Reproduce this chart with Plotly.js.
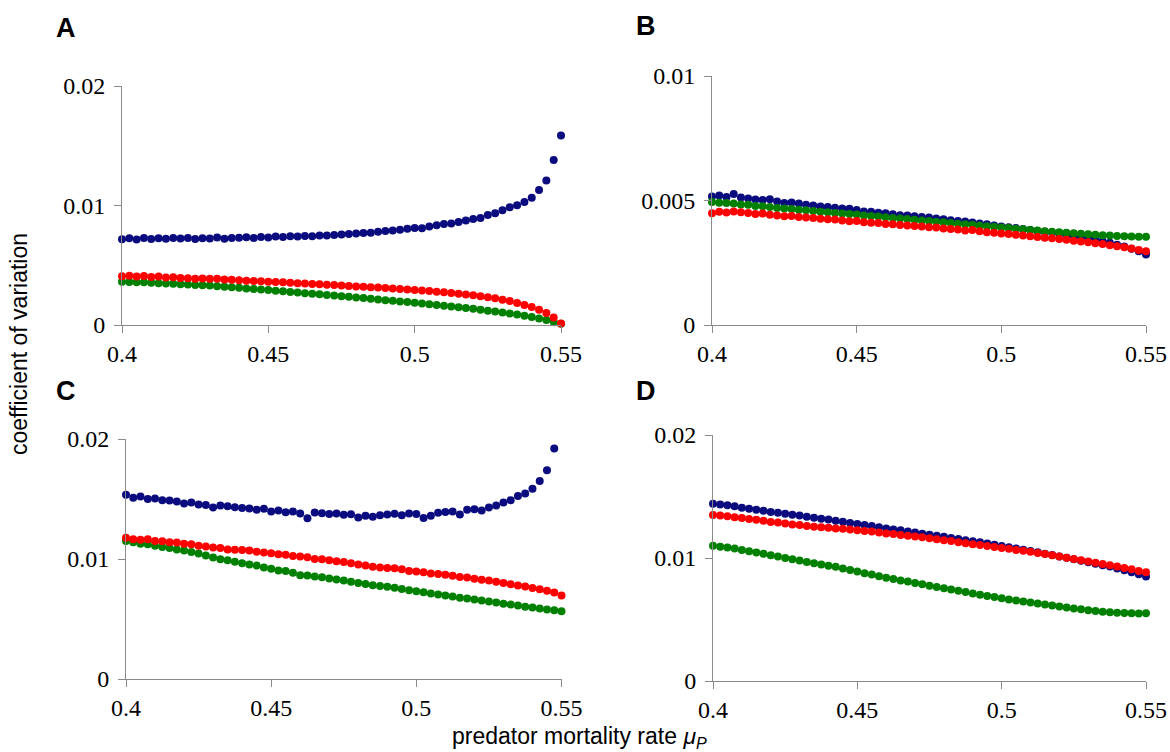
<!DOCTYPE html>
<html>
<head>
<meta charset="utf-8">
<script src="https://cdn.plot.ly/plotly-3.0.1.min.js"></script>
<style>html,body{margin:0;padding:0;background:#fff}#chart{width:1170px;height:752px}</style>
</head>
<body>
<div id="chart"></div>
<script>
// predator mortality rate values (x)
const mu = [0.4,0.4025,0.405,0.4075,0.41,0.4125,0.415,0.4175,0.42,0.4225,0.425,0.4275,0.43,0.4325,0.435,0.4375,0.44,0.4425,0.445,0.4475,0.45,0.4525,0.455,0.4575,0.46,0.4625,0.465,0.4675,0.47,0.4725,0.475,0.4775,0.48,0.4825,0.485,0.4875,0.49,0.4925,0.495,0.4975,0.5,0.5025,0.505,0.5075,0.51,0.5125,0.515,0.5175,0.52,0.5225,0.525,0.5275,0.53,0.5325,0.535,0.5375,0.54,0.5425,0.545,0.5475,0.55];

// Panel A
const blueA = [0.00718,0.00725,0.00715,0.00728,0.00720,0.00726,0.00722,0.00727,0.00724,0.00728,0.00720,0.00725,0.00723,0.00732,0.00722,0.00728,0.00730,0.00734,0.00729,0.00736,0.00733,0.00740,0.00737,0.00742,0.00740,0.00745,0.00743,0.00748,0.00750,0.00753,0.00757,0.00762,0.00765,0.00770,0.00772,0.00780,0.00786,0.00790,0.00798,0.00805,0.00812,0.00810,0.00825,0.00834,0.00845,0.00850,0.00862,0.00875,0.00888,0.00895,0.00920,0.00935,0.00960,0.00985,0.01002,0.01030,0.01065,0.01130,0.01210,0.01380,0.01585];
const redA = [0.00408,0.00412,0.00405,0.00410,0.00402,0.00405,0.00398,0.00400,0.00394,0.00392,0.00388,0.00390,0.00386,0.00388,0.00380,0.00378,0.00374,0.00371,0.00368,0.00366,0.00362,0.00360,0.00357,0.00353,0.00350,0.00348,0.00343,0.00341,0.00337,0.00334,0.00330,0.00327,0.00323,0.00320,0.00316,0.00313,0.00309,0.00305,0.00301,0.00298,0.00293,0.00289,0.00284,0.00279,0.00274,0.00268,0.00262,0.00256,0.00249,0.00241,0.00233,0.00223,0.00212,0.00200,0.00185,0.00168,0.00150,0.00128,0.00100,0.00062,0.00012];
const greenA = [0.00362,0.00360,0.00357,0.00358,0.00354,0.00350,0.00348,0.00345,0.00341,0.00338,0.00335,0.00333,0.00330,0.00324,0.00320,0.00316,0.00311,0.00306,0.00302,0.00297,0.00292,0.00287,0.00282,0.00277,0.00272,0.00266,0.00262,0.00257,0.00252,0.00246,0.00241,0.00236,0.00230,0.00225,0.00219,0.00214,0.00208,0.00203,0.00197,0.00192,0.00186,0.00180,0.00174,0.00168,0.00162,0.00155,0.00149,0.00142,0.00135,0.00128,0.00120,0.00112,0.00104,0.00096,0.00087,0.00077,0.00066,0.00055,0.00042,0.00028,0.00010];

// Panel B
const blueB = [0.00516,0.00520,0.00514,0.00526,0.00512,0.00508,0.00504,0.00502,0.00505,0.00496,0.00490,0.00492,0.00488,0.00483,0.00480,0.00476,0.00474,0.00471,0.00468,0.00467,0.00462,0.00456,0.00455,0.00451,0.00449,0.00445,0.00441,0.00440,0.00437,0.00434,0.00432,0.00428,0.00425,0.00421,0.00418,0.00416,0.00412,0.00408,0.00405,0.00400,0.00396,0.00393,0.00390,0.00386,0.00382,0.00378,0.00375,0.00371,0.00367,0.00363,0.00359,0.00353,0.00348,0.00342,0.00336,0.00330,0.00322,0.00315,0.00306,0.00296,0.00283];
const greenB = [0.00494,0.00491,0.00490,0.00488,0.00484,0.00483,0.00478,0.00477,0.00474,0.00470,0.00468,0.00466,0.00463,0.00461,0.00458,0.00455,0.00453,0.00450,0.00448,0.00446,0.00444,0.00440,0.00438,0.00436,0.00433,0.00430,0.00428,0.00426,0.00423,0.00420,0.00418,0.00415,0.00413,0.00410,0.00407,0.00405,0.00403,0.00400,0.00397,0.00395,0.00392,0.00390,0.00387,0.00385,0.00382,0.00380,0.00377,0.00375,0.00372,0.00370,0.00368,0.00366,0.00364,0.00362,0.00360,0.00359,0.00357,0.00356,0.00355,0.00354,0.00354];
const redB = [0.00449,0.00455,0.00452,0.00456,0.00453,0.00450,0.00446,0.00448,0.00443,0.00440,0.00437,0.00438,0.00434,0.00432,0.00430,0.00427,0.00425,0.00424,0.00420,0.00417,0.00418,0.00413,0.00411,0.00410,0.00406,0.00405,0.00402,0.00400,0.00398,0.00396,0.00393,0.00392,0.00388,0.00386,0.00384,0.00380,0.00382,0.00377,0.00372,0.00370,0.00367,0.00365,0.00362,0.00359,0.00356,0.00353,0.00350,0.00348,0.00345,0.00342,0.00338,0.00335,0.00332,0.00328,0.00325,0.00320,0.00316,0.00312,0.00307,0.00301,0.00296];

// Panel C
const blueC = [0.01536,0.01510,0.01520,0.01500,0.01505,0.01490,0.01488,0.01480,0.01462,0.01470,0.01455,0.01450,0.01430,0.01445,0.01440,0.01432,0.01425,0.01420,0.01410,0.01418,0.01395,0.01405,0.01390,0.01395,0.01380,0.01340,0.01388,0.01382,0.01375,0.01380,0.01368,0.01372,0.01345,0.01360,0.01352,0.01365,0.01370,0.01378,0.01365,0.01380,0.01375,0.01342,0.01360,0.01385,0.01392,0.01395,0.01370,0.01410,0.01415,0.01405,0.01430,0.01445,0.01470,0.01490,0.01525,0.01545,0.01585,0.01650,0.01740,0.01920,null];
const redC = [0.01178,0.01165,0.01160,0.01165,0.01150,0.01148,0.01140,0.01138,0.01128,0.01122,0.01110,0.01105,0.01095,0.01092,0.01080,0.01078,0.01075,0.01070,0.01060,0.01055,0.01048,0.01040,0.01035,0.01025,0.01020,0.01015,0.01000,0.00998,0.00990,0.00982,0.00975,0.00965,0.00955,0.00945,0.00935,0.00930,0.00925,0.00922,0.00915,0.00900,0.00895,0.00890,0.00880,0.00875,0.00868,0.00860,0.00850,0.00845,0.00835,0.00828,0.00820,0.00810,0.00800,0.00790,0.00780,0.00770,0.00758,0.00748,0.00735,0.00720,0.00695];
const greenC = [0.01150,0.01140,0.01128,0.01122,0.01110,0.01100,0.01092,0.01080,0.01070,0.01058,0.01045,0.01030,0.01012,0.00998,0.00990,0.00978,0.00965,0.00955,0.00945,0.00930,0.00918,0.00905,0.00900,0.00885,0.00865,0.00862,0.00855,0.00848,0.00838,0.00830,0.00820,0.00810,0.00800,0.00792,0.00782,0.00775,0.00768,0.00760,0.00750,0.00740,0.00732,0.00722,0.00712,0.00705,0.00696,0.00688,0.00678,0.00670,0.00662,0.00655,0.00645,0.00638,0.00628,0.00620,0.00612,0.00602,0.00595,0.00588,0.00580,0.00572,0.00565];

// Panel D
const blueD = [0.01442,0.01435,0.01428,0.01420,0.01408,0.01400,0.01392,0.01385,0.01375,0.01368,0.01360,0.01352,0.01345,0.01335,0.01328,0.01320,0.01312,0.01302,0.01295,0.01285,0.01277,0.01268,0.01260,0.01250,0.01240,0.01232,0.01225,0.01215,0.01208,0.01198,0.01190,0.01180,0.01172,0.01163,0.01155,0.01145,0.01137,0.01128,0.01118,0.01108,0.01098,0.01088,0.01078,0.01068,0.01056,0.01046,0.01035,0.01024,0.01013,0.01002,0.00990,0.00978,0.00966,0.00953,0.00942,0.00930,0.00915,0.00900,0.00885,0.00868,0.00850];
const redD = [0.01350,0.01345,0.01340,0.01332,0.01325,0.01318,0.01310,0.01302,0.01292,0.01288,0.01280,0.01272,0.01268,0.01260,0.01255,0.01250,0.01245,0.01240,0.01238,0.01232,0.01225,0.01220,0.01215,0.01208,0.01200,0.01195,0.01188,0.01180,0.01175,0.01168,0.01160,0.01152,0.01145,0.01138,0.01128,0.01120,0.01112,0.01105,0.01098,0.01090,0.01082,0.01075,0.01066,0.01058,0.01050,0.01040,0.01032,0.01022,0.01012,0.01002,0.00992,0.00982,0.00972,0.00962,0.00952,0.00942,0.00930,0.00918,0.00908,0.00895,0.00885];
const greenD = [0.01100,0.01092,0.01085,0.01078,0.01065,0.01055,0.01045,0.01035,0.01022,0.01012,0.01000,0.00990,0.00980,0.00968,0.00958,0.00948,0.00938,0.00928,0.00915,0.00903,0.00890,0.00877,0.00865,0.00852,0.00840,0.00830,0.00818,0.00808,0.00796,0.00786,0.00775,0.00765,0.00754,0.00744,0.00733,0.00723,0.00712,0.00702,0.00692,0.00682,0.00672,0.00663,0.00655,0.00646,0.00638,0.00630,0.00621,0.00613,0.00605,0.00597,0.00590,0.00583,0.00576,0.00570,0.00563,0.00558,0.00555,0.00552,0.00550,0.00548,0.00550];

const xTickVals = [0.4, 0.45, 0.5, 0.55];
const xTickText = ["0.4", "0.45", "0.5", "0.55"];
const yTickValsACD = [0, 0.01, 0.02];
const yTickTextACD = ["0", "0.01", "0.02"];
const yTickValsB = [0, 0.005, 0.01];
const yTickTextB = ["0", "0.005", "0.01"];
const panelLabels = ["A", "B", "C", "D"];
const yTitle = "coefficient of variation";
const xTitle = "predator mortality rate <i>μ<sub>P</sub></i>";

const NAVY = '#0b0b80', RED = '#ff0000', GREEN = '#008000';
const W = 1170, H = 752;
function mk(y, color, ax) {
  return {x: mu, y: y, type: 'scatter', mode: 'markers', xaxis: 'x' + ax, yaxis: 'y' + ax,
    cliponaxis: false, hoverinfo: 'skip', showlegend: false,
    marker: {color: color, size: 8, line: {width: 0}}};
}
const data = [
  mk(blueA, NAVY, ''), mk(greenA, GREEN, ''), mk(redA, RED, ''),
  mk(blueB, NAVY, '2'), mk(greenB, GREEN, '2'), mk(redB, RED, '2'),
  mk(blueC, NAVY, '3'), mk(greenC, GREEN, '3'), mk(redC, RED, '3'),
  mk(blueD, NAVY, '4'), mk(greenD, GREEN, '4'), mk(redD, RED, '4')
];
function xa(x0, x1, anchor) {
  return {domain: [x0 / W, x1 / W], anchor: anchor, range: [0.4, 0.55], tickvals: xTickVals, ticktext: xTickText,
    showline: true, linecolor: '#8a8a8a', linewidth: 1, ticks: 'outside', ticklen: 7, tickcolor: '#8a8a8a',
    showgrid: false, zeroline: false, tickfont: {family: 'Liberation Serif', size: 24, color: '#000'},
    ticklabeloverflow: 'allow'};
}
function ya(yBottom, yTop, range, vals, text, anchor) {
  return {domain: [1 - yBottom / H, 1 - yTop / H], anchor: anchor, range: range, tickvals: vals, ticktext: text,
    showline: true, linecolor: '#8a8a8a', linewidth: 1, ticks: 'outside', ticklen: 7, tickcolor: '#8a8a8a',
    showgrid: false, zeroline: false, tickfont: {family: 'Liberation Serif', size: 24, color: '#000'},
    ticklabelstandoff: 4};
}
function ann(text, x, y, size, extra) {
  return Object.assign({text: text, x: x / W, y: 1 - y / H, xref: 'paper', yref: 'paper', showarrow: false,
    xanchor: 'center', yanchor: 'middle', font: {family: 'Liberation Sans', size: size, color: '#000'}}, extra || {});
}
const layout = {
  width: W, height: H, autosize: false, margin: {l: 0, r: 0, t: 0, b: 0},
  paper_bgcolor: '#fff', plot_bgcolor: 'rgba(0,0,0,0)', showlegend: false,
  xaxis: xa(122, 561, 'y'), yaxis: ya(325, 86, [0, 0.02], yTickValsACD, yTickTextACD, 'x'),
  xaxis2: xa(712, 1146, 'y2'), yaxis2: ya(325, 76, [0, 0.01], yTickValsB, yTickTextB, 'x2'),
  xaxis3: xa(126, 561.5, 'y3'), yaxis3: ya(679, 439, [0, 0.02], yTickValsACD, yTickTextACD, 'x3'),
  xaxis4: xa(713, 1146, 'y4'), yaxis4: ya(681, 435, [0, 0.02], yTickValsACD, yTickTextACD, 'x4'),
  annotations: [
    ann('<b>' + panelLabels[0] + '</b>', 66, 28, 27),
    ann('<b>' + panelLabels[1] + '</b>', 646, 26, 27),
    ann('<b>' + panelLabels[2] + '</b>', 66, 391, 27),
    ann('<b>' + panelLabels[3] + '</b>', 646, 391, 27),
    ann(yTitle, 19, 344, 23, {textangle: -90}),
    ann(xTitle, 579, 737, 23)
  ]
};
Plotly.newPlot('chart', data, layout, {displayModeBar: false});
</script>
</body>
</html>
